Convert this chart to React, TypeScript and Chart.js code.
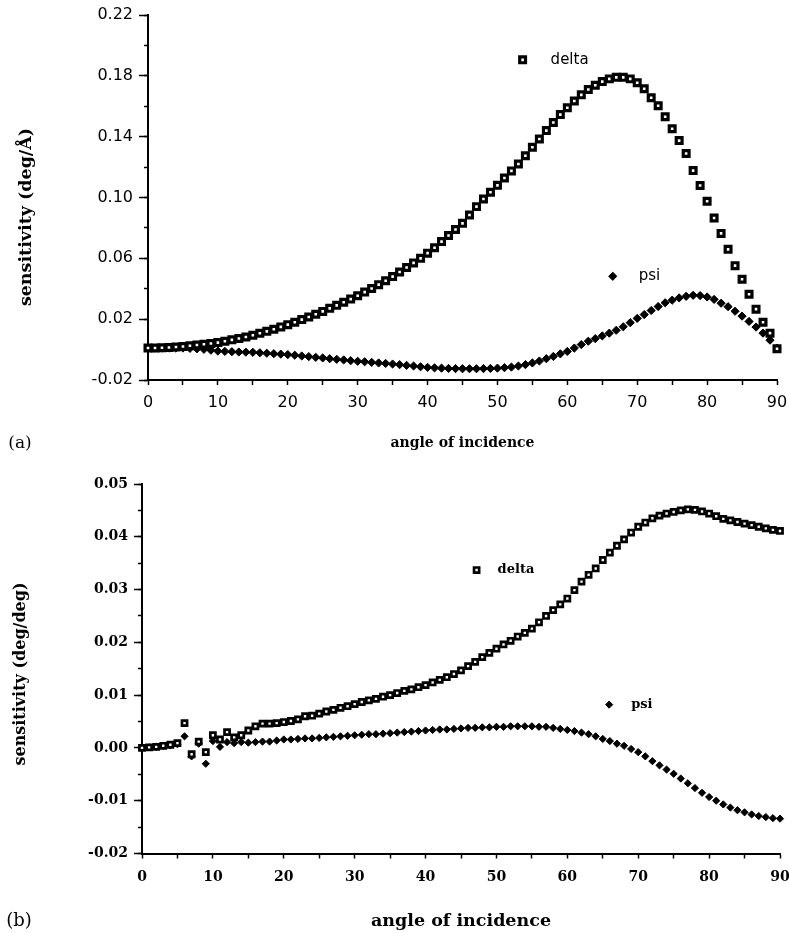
import React, { useEffect, useRef } from 'react';
import { Chart, registerables } from 'chart.js';

Chart.register(...registerables);

// ---------- data ----------
const angles = [
  0, 1, 2, 3, 4, 5, 6, 7, 8, 9, 10, 11, 12, 13, 14, 15, 16, 17, 18, 19,
  20, 21, 22, 23, 24, 25, 26, 27, 28, 29, 30, 31, 32, 33, 34, 35, 36, 37, 38, 39,
  40, 41, 42, 43, 44, 45, 46, 47, 48, 49, 50, 51, 52, 53, 54, 55, 56, 57, 58, 59,
  60, 61, 62, 63, 64, 65, 66, 67, 68, 69, 70, 71, 72, 73, 74, 75, 76, 77, 78, 79,
  80, 81, 82, 83, 84, 85, 86, 87, 88, 89, 90,
];

// panel (a): sensitivity (deg/Å)
const deltaA = [
  0.001, 0.001, 0.0012, 0.0014, 0.0017, 0.002, 0.0025, 0.003, 0.0035, 0.004,
  0.0046, 0.0055, 0.0064, 0.0073, 0.0083, 0.0094, 0.0107, 0.012, 0.0134, 0.0149,
  0.0164, 0.018, 0.0197, 0.0214, 0.0232, 0.0251, 0.0271, 0.0291, 0.0311, 0.0332,
  0.0354, 0.0378, 0.0402, 0.0427, 0.0453, 0.048, 0.051, 0.054, 0.057, 0.06,
  0.0634, 0.067, 0.071, 0.075, 0.079, 0.083, 0.0885, 0.094, 0.099, 0.1035,
  0.108, 0.1128, 0.1175, 0.122, 0.1275, 0.133, 0.1385, 0.144, 0.1493, 0.1545,
  0.159, 0.1635, 0.1675, 0.171, 0.1738, 0.1762, 0.178, 0.179, 0.179, 0.178,
  0.1755, 0.1715, 0.1656, 0.1603, 0.1531, 0.1452, 0.1374, 0.1289, 0.1177, 0.1079,
  0.0975, 0.0865, 0.0764, 0.0659, 0.0552, 0.0462, 0.0364, 0.0266, 0.018, 0.0108,
  0.0005,
];
const psiA = [
  0.001, 0.001, 0.001, 0.001, 0.001, 0.001, 0.0008, 0.0005, 0.0002, -0.0004,
  -0.001, -0.0012, -0.0014, -0.0016, -0.0017, -0.0018, -0.0021, -0.0024, -0.0027, -0.003,
  -0.0033, -0.0037, -0.0042, -0.0046, -0.0051, -0.0055, -0.006, -0.0064, -0.0068, -0.0073,
  -0.0077, -0.008, -0.0084, -0.0088, -0.0091, -0.0095, -0.0099, -0.0104, -0.0108, -0.0113,
  -0.0117, -0.012, -0.0122, -0.0124, -0.0125, -0.0126, -0.0126, -0.0126, -0.0125, -0.0124,
  -0.0122, -0.0119, -0.0115, -0.0108, -0.0099, -0.0088, -0.0075, -0.006, -0.0045, -0.0028,
  -0.0012, 0.001, 0.0033, 0.0055, 0.0072, 0.009, 0.0108, 0.0127, 0.015, 0.0177,
  0.0205, 0.023, 0.0257, 0.0283, 0.0308, 0.0325, 0.034, 0.035, 0.0357, 0.0355,
  0.0346, 0.033, 0.0305, 0.0282, 0.0252, 0.022, 0.0185, 0.0148, 0.0108, 0.0062,
  0.001,
];

// panel (b): sensitivity (deg/deg)
const deltaB = [
  0.0, 0.0001, 0.0002, 0.0004, 0.0006, 0.0009, 0.0047, -0.0012, 0.0012, -0.0008,
  0.0024, 0.0016, 0.003, 0.002, 0.0024, 0.0033, 0.0041, 0.0046, 0.0046, 0.0047,
  0.0049, 0.0051, 0.0054, 0.006, 0.0061, 0.0065, 0.0069, 0.0072, 0.0076, 0.0079,
  0.0083, 0.0087, 0.009, 0.0093, 0.0097, 0.01, 0.0104, 0.0108, 0.0111, 0.0115,
  0.0119, 0.0124, 0.0129, 0.0134, 0.014, 0.0147, 0.0155, 0.0163, 0.0172, 0.018,
  0.0188, 0.0196, 0.0203, 0.0211, 0.0218, 0.0226, 0.0238, 0.025, 0.0261, 0.0272,
  0.0283, 0.0299, 0.0315, 0.0328, 0.034, 0.0356, 0.037, 0.0383, 0.0395, 0.0408,
  0.0419, 0.0427, 0.0435, 0.044, 0.0444, 0.0447, 0.045, 0.0452, 0.0451, 0.0448,
  0.0444, 0.0439, 0.0434, 0.0431, 0.0428, 0.0425, 0.0422, 0.0419, 0.0416, 0.0413,
  0.0411,
];
const psiB = [
  0.0, 0.0001, 0.0002, 0.0004, 0.0005, 0.0007, 0.0022, -0.0016, 0.0008, -0.003,
  0.0013, 0.0002, 0.0011, 0.0009, 0.0011, 0.001, 0.0011, 0.0012, 0.0012, 0.0014,
  0.0016, 0.0016, 0.0017, 0.0018, 0.0018, 0.0019, 0.002, 0.0021, 0.0022, 0.0023,
  0.0024, 0.0025, 0.0026, 0.0026, 0.0027, 0.0028, 0.0029, 0.003, 0.0031, 0.0032,
  0.0033, 0.0034, 0.0035, 0.0035, 0.0036, 0.0037, 0.0038, 0.0038, 0.0039, 0.0039,
  0.004, 0.004, 0.0041, 0.0041, 0.0041, 0.0041, 0.004, 0.004, 0.0038, 0.0036,
  0.0034, 0.0032, 0.0029, 0.0026, 0.0022, 0.0017, 0.0013, 0.0008, 0.0004, -0.0002,
  -0.0008, -0.0016, -0.0025, -0.0033, -0.0041, -0.0049, -0.0058, -0.0067, -0.0076, -0.0085,
  -0.0093, -0.01, -0.0107, -0.0113, -0.0118, -0.0122, -0.0126, -0.0129, -0.0131, -0.0133,
  -0.0134,
];

const seriesNames = ['delta', 'psi'];
const xTickLabels = ['0', '10', '20', '30', '40', '50', '60', '70', '80', '90'];
const yTickLabelsA = ['-0.02', '0.02', '0.06', '0.10', '0.14', '0.18', '0.22'];
const yTickLabelsB = ['-0.02', '-0.01', '0.00', '0.01', '0.02', '0.03', '0.04', '0.05'];
const xTitle = 'angle of incidence';
const yTitleA = 'sensitivity (deg/Å)';
const yTitleB = 'sensitivity (deg/deg)';

// ---------- panel configuration (layout / styles) ----------
type Marker = { radius: number; border: number };
type PanelCfg = {
  width: number;
  height: number;
  delta: number[];
  psi: number[];
  yMin: number;
  yMax: number;
  yMajor: number;
  yMinor: number;
  yLabels: string[];
  tickFont: { family: string; size: number; weight?: string };
  yAxisWidth: number;
  xAxisHeight: number;
  padTop: number;
  padRight: number;
  yMajorLen: number;
  yMinorLen: number;
  xTickLen: number;
  yTickPad: number;
  xTickPad: number;
  titleFont: { family: string; size: number; weight?: string };
  titlePadBottom: number;
  yTitle: { text: string; x: number; y: number; font: string };
  panelLabel: { text: string; x: number; y: number; font: string };
  legendFont: string;
  legend: { ax: number; av: number; dx: number }[];
  square: Marker;
  diamond: Marker;
};

const panelA: PanelCfg = {
  width: 789,
  height: 470,
  delta: deltaA,
  psi: psiA,
  yMin: -0.02,
  yMax: 0.22,
  yMajor: 0.04,
  yMinor: 0.02,
  yLabels: yTickLabelsA,
  tickFont: { family: '"DejaVu Sans", sans-serif', size: 16 },
  yAxisWidth: 148,
  xAxisHeight: 90,
  padTop: 15,
  padRight: 12,
  yMajorLen: 9,
  yMinorLen: 4,
  xTickLen: 5,
  yTickPad: 6,
  xTickPad: 8,
  titleFont: { family: '"DejaVu Serif", serif', size: 14, weight: 'bold' },
  titlePadBottom: 18,
  yTitle: { text: yTitleA, x: 26, y: 217, font: 'bold 17.5px "DejaVu Serif", serif' },
  panelLabel: { text: '(a)', x: 20, y: 444, font: '17px "DejaVu Serif", serif' },
  legendFont: '15px "DejaVu Sans", sans-serif',
  legend: [
    { ax: 53.6, av: 0.1905, dx: 28 },
    { ax: 66.5, av: 0.0482, dx: 26 },
  ],
  square: { radius: 4.1, border: 3.2 },
  diamond: { radius: 4.1, border: 1 },
};

const panelB: PanelCfg = {
  width: 789,
  height: 463,
  delta: deltaB,
  psi: psiB,
  yMin: -0.02,
  yMax: 0.05,
  yMajor: 0.01,
  yMinor: 0.005,
  yLabels: yTickLabelsB,
  tickFont: { family: '"DejaVu Serif", serif', size: 14, weight: 'bold' },
  yAxisWidth: 142,
  xAxisHeight: 79.5,
  padTop: 14,
  padRight: 9,
  yMajorLen: 8,
  yMinorLen: 4,
  xTickLen: 5,
  yTickPad: 6,
  xTickPad: 10,
  titleFont: { family: '"DejaVu Serif", serif', size: 17.5, weight: 'bold' },
  titlePadBottom: 1.5,
  yTitle: { text: yTitleB, x: 21, y: 204, font: 'bold 16px "DejaVu Serif", serif' },
  panelLabel: { text: '(b)', x: 19, y: 451, font: '18px "DejaVu Serif", serif' },
  legendFont: 'bold 13px "DejaVu Serif", serif',
  legend: [
    { ax: 47.2, av: 0.0337, dx: 21 },
    { ax: 65.9, av: 0.0082, dx: 22 },
  ],
  square: { radius: 3.6, border: 2.7 },
  diamond: { radius: 3.6, border: 1 },
};

function drawSquare(ctx: CanvasRenderingContext2D, x: number, y: number, m: Marker) {
  const s = Math.SQRT1_2 * m.radius;
  ctx.beginPath();
  ctx.rect(x - s, y - s, 2 * s, 2 * s);
  ctx.fillStyle = '#fff';
  ctx.fill();
  ctx.lineWidth = m.border;
  ctx.strokeStyle = '#000';
  ctx.stroke();
}

function drawDiamond(ctx: CanvasRenderingContext2D, x: number, y: number, m: Marker) {
  const r = m.radius;
  ctx.beginPath();
  ctx.moveTo(x - r, y);
  ctx.lineTo(x, y - r);
  ctx.lineTo(x + r, y);
  ctx.lineTo(x, y + r);
  ctx.closePath();
  ctx.fillStyle = '#000';
  ctx.fill();
  ctx.lineWidth = m.border;
  ctx.strokeStyle = '#000';
  ctx.stroke();
}

function makeOverlay(cfg: PanelCfg) {
  return {
    id: 'overlay',
    afterDraw(chart: any) {
      const ctx: CanvasRenderingContext2D = chart.ctx;
      const xs = chart.scales.x;
      const ys = chart.scales.y;
      ctx.save();
      // y-axis title
      ctx.save();
      ctx.fillStyle = '#000';
      ctx.font = cfg.yTitle.font;
      ctx.textAlign = 'center';
      ctx.textBaseline = 'middle';
      ctx.translate(cfg.yTitle.x, cfg.yTitle.y);
      ctx.rotate(-Math.PI / 2);
      ctx.fillText(cfg.yTitle.text, 0, 0);
      ctx.restore();
      // panel label
      ctx.fillStyle = '#000';
      ctx.font = cfg.panelLabel.font;
      ctx.textAlign = 'center';
      ctx.textBaseline = 'middle';
      ctx.fillText(cfg.panelLabel.text, cfg.panelLabel.x, cfg.panelLabel.y);
      // in-plot legend
      cfg.legend.forEach((item, i) => {
        const px = xs.getPixelForValue(item.ax);
        const py = ys.getPixelForValue(item.av);
        if (i === 0) drawSquare(ctx, px, py, cfg.square);
        else drawDiamond(ctx, px, py, cfg.diamond);
        ctx.fillStyle = '#000';
        ctx.font = cfg.legendFont;
        ctx.textAlign = 'left';
        ctx.textBaseline = 'middle';
        ctx.fillText(seriesNames[i], px + item.dx, py);
      });
      ctx.restore();
    },
  };
}

function buildChart(canvas: HTMLCanvasElement, cfg: PanelCfg) {
  const black = '#000';
  return new Chart(canvas, {
    type: 'scatter',
    data: {
      datasets: [
        {
          label: seriesNames[0],
          data: angles.map((a, i) => ({ x: a, y: cfg.delta[i] })),
          showLine: false,
          pointStyle: 'rect',
          pointRadius: cfg.square.radius,
          pointBorderWidth: cfg.square.border,
          pointBorderColor: black,
          pointBackgroundColor: '#fff',
          clip: false,
        },
        {
          label: seriesNames[1],
          data: angles.map((a, i) => ({ x: a, y: cfg.psi[i] })),
          showLine: false,
          pointStyle: 'rectRot',
          pointRadius: cfg.diamond.radius,
          pointBorderWidth: cfg.diamond.border,
          pointBorderColor: black,
          pointBackgroundColor: black,
          clip: false,
        },
      ],
    },
    options: {
      responsive: false,
      animation: false,
      devicePixelRatio: 1,
      events: [],
      layout: { padding: { top: cfg.padTop, right: cfg.padRight, left: 0, bottom: 0 } },
      plugins: {
        legend: { display: false },
        tooltip: { enabled: false },
        title: { display: false },
      },
      scales: {
        x: {
          type: 'linear',
          position: 'bottom',
          min: 0,
          max: 90,
          offset: false,
          ticks: {
            stepSize: 5,
            autoSkip: false,
            maxRotation: 0,
            minRotation: 0,
            padding: cfg.xTickPad,
            color: black,
            font: cfg.tickFont,
            callback: (_v: any, i: number) => (i % 2 === 0 ? xTickLabels[i / 2] : ''),
          },
          grid: {
            drawOnChartArea: false,
            drawTicks: true,
            tickLength: cfg.xTickLen,
            tickWidth: 1.5,
            color: black,
          },
          border: { display: true, color: black, width: 2 },
          title: {
            display: true,
            text: xTitle,
            color: black,
            font: cfg.titleFont,
            padding: { top: 0, bottom: cfg.titlePadBottom },
          },
          afterFit: (s: any) => {
            s.height = cfg.xAxisHeight;
            s.paddingLeft = 0;
            s.paddingRight = 0;
          },
        },
        y: {
          type: 'linear',
          position: 'left',
          min: cfg.yMin,
          max: cfg.yMax,
          ticks: {
            stepSize: cfg.yMajor,
            autoSkip: false,
            padding: cfg.yTickPad,
            color: black,
            font: cfg.tickFont,
            callback: (_v: any, i: number) => cfg.yLabels[i],
          },
          grid: {
            drawOnChartArea: false,
            drawTicks: true,
            tickLength: cfg.yMajorLen,
            tickWidth: 1.5,
            color: black,
          },
          border: { display: true, color: black, width: 2 },
          afterFit: (s: any) => {
            s.width = cfg.yAxisWidth;
            s.paddingTop = 0;
            s.paddingBottom = 0;
          },
        },
        yMinor: {
          type: 'linear',
          axis: 'y',
          position: { x: 0 },
          min: cfg.yMin,
          max: cfg.yMax,
          ticks: { display: false, stepSize: cfg.yMinor, autoSkip: false },
          grid: {
            drawOnChartArea: false,
            drawTicks: true,
            tickLength: cfg.yMinorLen,
            tickWidth: 1.5,
            color: black,
          },
          border: { display: false },
          afterFit: (s: any) => {
            s.paddingTop = 0;
            s.paddingBottom = 0;
            s.paddingLeft = 0;
            s.paddingRight = 0;
          },
        },
      } as any,
    },
    plugins: [makeOverlay(cfg)],
  } as any);
}

function Panel({ cfg, top }: { cfg: PanelCfg; top: number }) {
  const ref = useRef<HTMLCanvasElement | null>(null);
  useEffect(() => {
    if (!ref.current) return;
    const chart = buildChart(ref.current, cfg);
    return () => chart.destroy();
  }, [cfg]);
  return (
    <canvas
      ref={ref}
      width={cfg.width}
      height={cfg.height}
      style={{ position: 'absolute', left: 0, top, width: cfg.width, height: cfg.height }}
    />
  );
}

export default function App() {
  return (
    <div
      style={{
        position: 'absolute',
        left: 0,
        top: 0,
        width: 789,
        height: 933,
        background: '#fff',
        overflow: 'hidden',
      }}
    >
      <Panel cfg={panelA} top={0} />
      <Panel cfg={panelB} top={470} />
    </div>
  );
}
